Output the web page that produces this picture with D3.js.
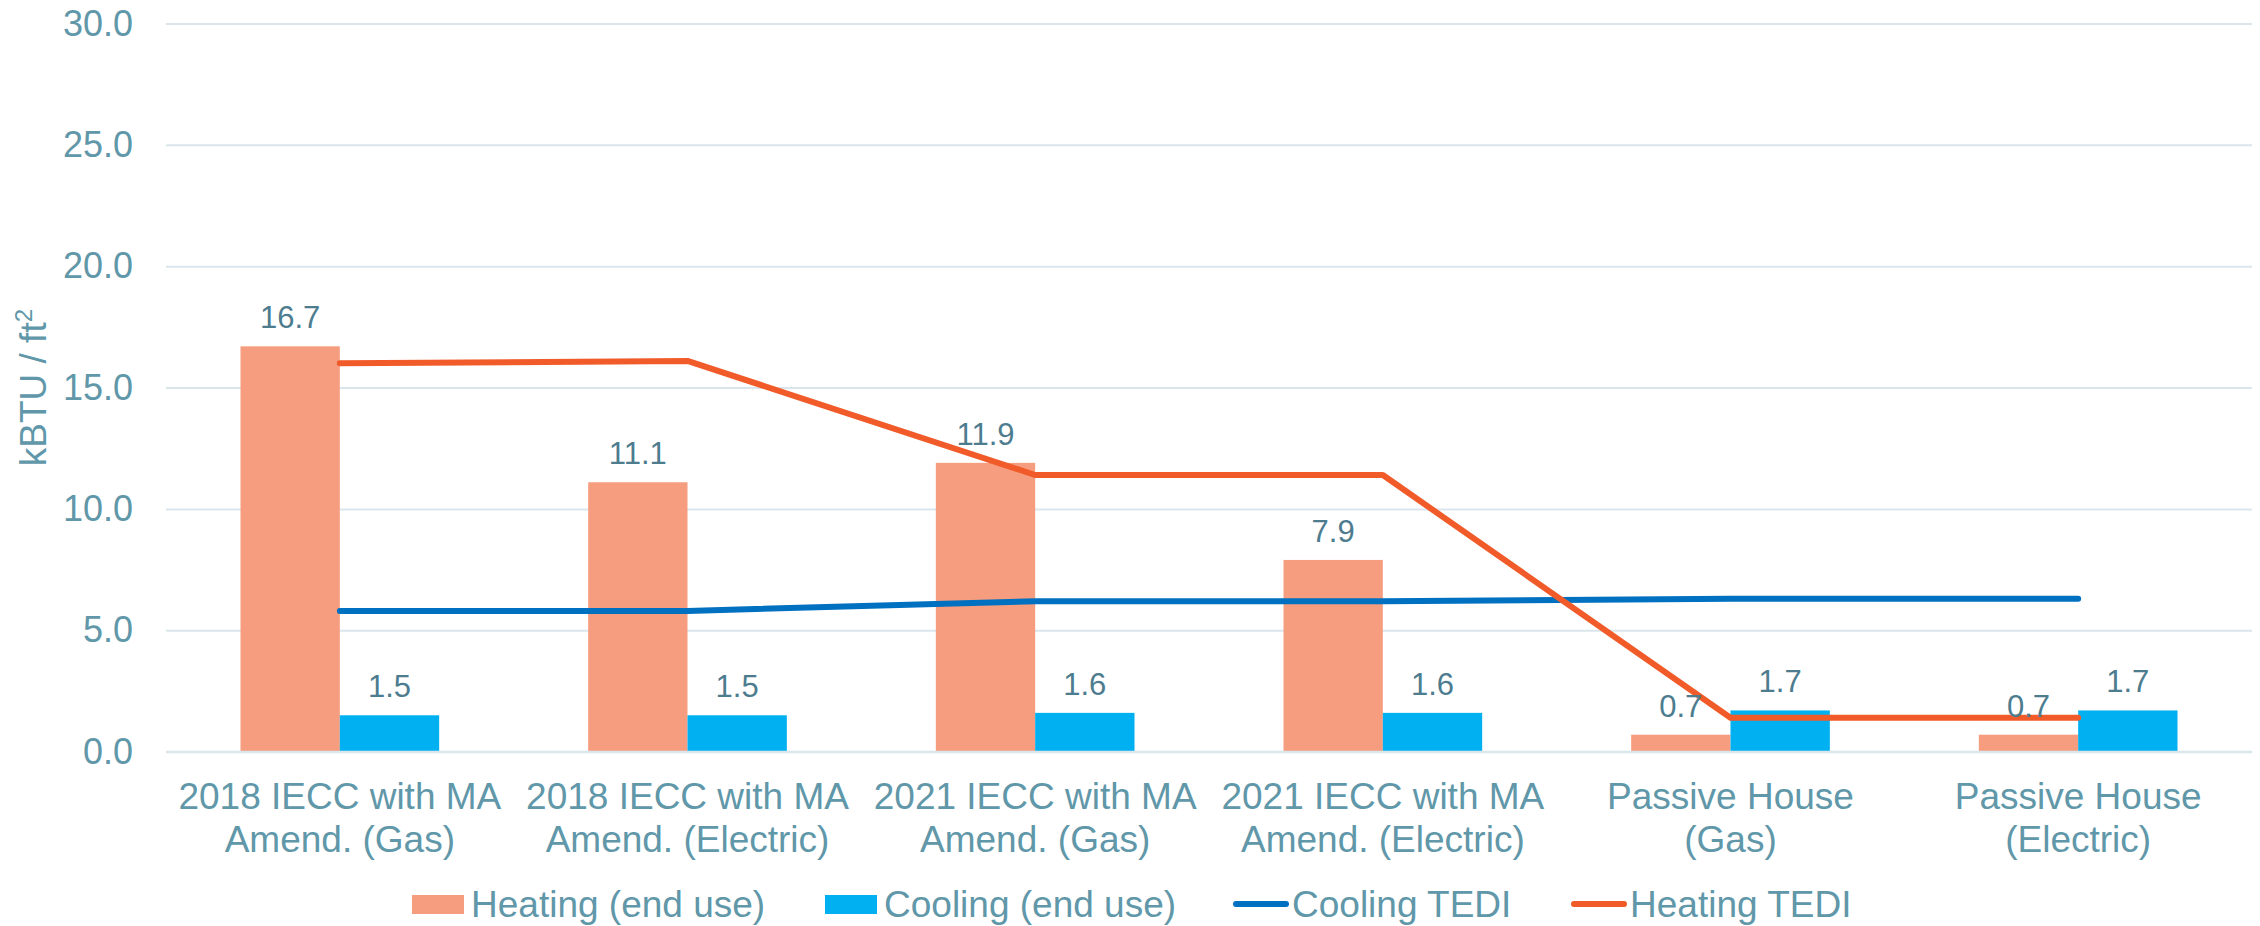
<!DOCTYPE html>
<html>
<head>
<meta charset="utf-8">
<script src="https://cdn.jsdelivr.net/npm/d3@7"></script>
<style>
  body { margin: 0; background: #fff; }
  text { font-family: "Liberation Sans", Arial, sans-serif; }
</style>
</head>
<body>
<div id="chart"></div>
<script>
// categories (line breaks as in the original axis)
const categories = [
  "2018 IECC with MA\nAmend. (Gas)",
  "2018 IECC with MA\nAmend. (Electric)",
  "2021 IECC with MA\nAmend. (Gas)",
  "2021 IECC with MA\nAmend. (Electric)",
  "Passive House\n(Gas)",
  "Passive House\n(Electric)"
];
const heatingEndUse = [16.7, 11.1, 11.9, 7.9, 0.7, 0.7];
const coolingEndUse = [1.5, 1.5, 1.6, 1.6, 1.7, 1.7];
const coolingTEDI = [5.8, 5.8, 6.2, 6.2, 6.3, 6.3];
const heatingTEDI = [16.0, 16.1, 11.4, 11.4, 1.4, 1.4];
const yTicks = [0, 5, 10, 15, 20, 25, 30];

const W = 2260, H = 926;
const margin = { top: 23.5, right: 8, bottom: 174.3, left: 166 };
const width = W - margin.left - margin.right;
const height = H - margin.top - margin.bottom;

const axisColor = "#6097a9";
const labelColor = "#4d7c8f";
const gridColor = "#dae6ec";
const colHeat = "#f59d7e", colCool = "#00b0f0";
const colCoolLine = "#0070c0", colHeatLine = "#f15b2a";

const svg = d3.select("#chart")
  .append("svg")
  .attr("width", W)
  .attr("height", H)
  .append("g")
  .attr("transform", `translate(${margin.left},${margin.top})`);

const x = d3.scaleBand().domain(categories).range([0, width]).padding(0);
const y = d3.scaleLinear().domain([0, 30]).range([height, 0]);

// gap width 75%
const groupW = x.bandwidth() / 1.75;
const barW = groupW / 2;
const cx = d => x(d) + x.bandwidth() / 2;

// y axis + gridlines
const yAxis = svg.append("g")
  .call(d3.axisLeft(y).tickValues(yTicks).tickFormat(d3.format(".1f"))
    .tickSize(-width).tickPadding(33));
yAxis.select(".domain").remove();
yAxis.selectAll(".tick line").attr("stroke", gridColor).attr("stroke-width", 2);
yAxis.selectAll(".tick text").attr("fill", axisColor).attr("font-size", 36)
  .attr("font-family", "Liberation Sans, Arial, sans-serif");

// y title
svg.append("text")
  .attr("transform", `translate(${46 - margin.left},${height / 2}) rotate(-90)`)
  .attr("text-anchor", "middle")
  .attr("fill", axisColor)
  .attr("font-size", 37)
  .text("kBTU / ft")
  .append("tspan")
  .attr("font-size", 24)
  .attr("dy", -14)
  .text("2");

// bars
const heatData = categories.map((c, i) => ({ c, v: heatingEndUse[i] }));
const coolData = categories.map((c, i) => ({ c, v: coolingEndUse[i] }));

svg.selectAll(".heat").data(heatData).enter().append("rect")
  .attr("x", d => cx(d.c) - barW)
  .attr("y", d => y(d.v))
  .attr("width", barW)
  .attr("height", d => y(0) - y(d.v))
  .attr("fill", colHeat);

svg.selectAll(".cool").data(coolData).enter().append("rect")
  .attr("x", d => cx(d.c))
  .attr("y", d => y(d.v))
  .attr("width", barW)
  .attr("height", d => y(0) - y(d.v))
  .attr("fill", colCool);

// x axis baseline
svg.append("line")
  .attr("x1", 0).attr("x2", width)
  .attr("y1", y(0)).attr("y2", y(0))
  .attr("stroke", gridColor).attr("stroke-width", 2);

// lines
const lineGen = d3.line().x(d => cx(d.c)).y(d => y(d.v));
svg.append("path")
  .datum(categories.map((c, i) => ({ c, v: coolingTEDI[i] })))
  .attr("d", lineGen)
  .attr("fill", "none").attr("stroke", colCoolLine)
  .attr("stroke-width", 6).attr("stroke-linecap", "round").attr("stroke-linejoin", "round");
svg.append("path")
  .datum(categories.map((c, i) => ({ c, v: heatingTEDI[i] })))
  .attr("d", lineGen)
  .attr("fill", "none").attr("stroke", colHeatLine)
  .attr("stroke-width", 6).attr("stroke-linecap", "round").attr("stroke-linejoin", "round");

// data labels
const fmt = d3.format(".1f");
svg.selectAll(".hl").data(heatData).enter().append("text")
  .attr("x", d => cx(d.c) - barW / 2)
  .attr("y", d => y(d.v) - 18)
  .attr("text-anchor", "middle").attr("fill", labelColor).attr("font-size", 31)
  .text(d => fmt(d.v));
svg.selectAll(".cl").data(coolData).enter().append("text")
  .attr("x", d => cx(d.c) + barW / 2)
  .attr("y", d => y(d.v) - 18)
  .attr("text-anchor", "middle").attr("fill", labelColor).attr("font-size", 31)
  .text(d => fmt(d.v));

// category labels
const catText = svg.selectAll(".cat").data(categories).enter().append("text")
  .attr("text-anchor", "middle").attr("fill", axisColor).attr("font-size", 37)
  .attr("transform", d => `translate(${cx(d)},${y(0) + 57})`);
catText.selectAll("tspan").data(d => d.split("\n")).enter().append("tspan")
  .attr("x", 0).attr("y", (d, i) => i * 43).text(d => d);

// legend
const legend = svg.append("g").attr("transform", `translate(${-margin.left},${-margin.top})`);
const legendItems = [
  { name: "Heating (end use)", type: "rect", color: colHeat, x: 412 },
  { name: "Cooling (end use)", type: "rect", color: colCool, x: 825 },
  { name: "Cooling TEDI", type: "line", color: colCoolLine, x: 1233 },
  { name: "Heating TEDI", type: "line", color: colHeatLine, x: 1571 }
];
legendItems.forEach(it => {
  if (it.type === "rect") {
    legend.append("rect").attr("x", it.x).attr("y", 895).attr("width", 52).attr("height", 19)
      .attr("fill", it.color);
  } else {
    legend.append("line").attr("x1", it.x + 3).attr("x2", it.x + 53).attr("y1", 904).attr("y2", 904)
      .attr("stroke", it.color).attr("stroke-width", 6).attr("stroke-linecap", "round");
  }
  legend.append("text").attr("x", it.x + 59).attr("y", 917)
    .attr("fill", axisColor).attr("font-size", 37).text(it.name);
});
</script>
</body>
</html>
